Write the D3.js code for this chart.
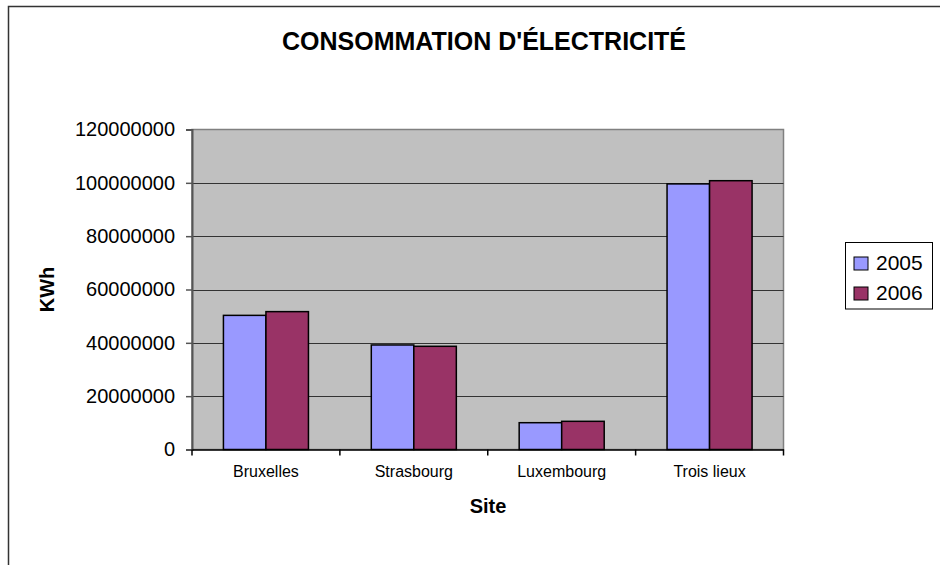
<!DOCTYPE html>
<html>
<head>
<meta charset="utf-8">
<script src="https://cdn.jsdelivr.net/npm/d3@7"></script>
<style>
  html, body { margin: 0; padding: 0; background: #fff; }
  svg { display: block; font-family: "Liberation Sans", Arial, sans-serif; }
</style>
</head>
<body>
<svg id="chart" width="940" height="565"></svg>
<script>
const categories = ["Bruxelles", "Strasbourg", "Luxembourg", "Trois lieux"];
const seriesNames = ["2005", "2006"];
const values2005 = [50300000, 39200000, 10050000, 99600000];
const values2006 = [51700000, 38700000, 10570000, 100800000];
const yTicks = [0, 20000000, 40000000, 60000000, 80000000, 100000000, 120000000];
const colors = ["#9999ff", "#993366"];

const svg = d3.select("#chart");
const W = 940, H = 565;
const plot = { left: 192, right: 783.5, top: 129.5, bottom: 449.5 };

// outer frame
svg.append("rect").attr("x", 8.5).attr("y", 6.5).attr("width", 960).attr("height", 600)
  .attr("fill", "#fff").attr("stroke", "#333").attr("stroke-width", 1.5);

const x0 = d3.scaleBand().domain(categories).range([plot.left, plot.right]).padding(0);
const bw = x0.bandwidth();
const gap = bw * 0.2125;
const x1 = d3.scaleBand().domain(seriesNames).range([gap, bw - gap]).padding(0);
const y = d3.scaleLinear().domain([0, 120000000]).range([plot.bottom, plot.top]);

// plot background
svg.append("rect").attr("x", plot.left).attr("y", plot.top)
  .attr("width", plot.right - plot.left).attr("height", plot.bottom - plot.top)
  .attr("fill", "#c0c0c0").attr("stroke", "#808080").attr("stroke-width", 1.5);

// gridlines
svg.append("g").selectAll("line").data(yTicks.filter(d => d > 0 && d < 120000000)).join("line")
  .attr("x1", plot.left).attr("x2", plot.right)
  .attr("y1", d => Math.round(y(d)) + 0.5).attr("y2", d => Math.round(y(d)) + 0.5)
  .attr("stroke", "#333").attr("stroke-width", 1);

// bars
const data = categories.map((c, i) => ({ cat: c, vals: [values2005[i], values2006[i]] }));
const groups = svg.append("g").selectAll("g").data(data).join("g")
  .attr("transform", d => `translate(${x0(d.cat)},0)`);
groups.selectAll("rect").data(d => d.vals.map((v, j) => ({ s: seriesNames[j], v, j }))).join("rect")
  .attr("x", d => x1(d.s)).attr("width", x1.bandwidth())
  .attr("y", d => y(d.v)).attr("height", d => y(0) - y(d.v))
  .attr("fill", d => colors[d.j]).attr("stroke", "#000").attr("stroke-width", 1.5);

// y axis
const yAxis = d3.axisLeft(y).tickValues(yTicks).tickSize(6).tickPadding(11).tickFormat(d3.format("d"));
const gy = svg.append("g").attr("transform", `translate(${plot.left},0)`).call(yAxis);
gy.select(".domain").attr("stroke", "#555").attr("stroke-width", 2);
gy.selectAll(".tick line").attr("stroke", "#555").attr("stroke-width", 1.5);
gy.selectAll(".tick text").attr("font-size", 20).attr("fill", "#000")
  .attr("font-family", "'Liberation Sans', Arial, sans-serif");

// x axis
const xAxis = d3.axisBottom(x0).tickSize(0).tickPadding(16);
const gx = svg.append("g").attr("transform", `translate(0,${plot.bottom})`).call(xAxis);
gx.select(".domain").attr("stroke", "#000").attr("stroke-width", 1.5);
gx.selectAll(".tick text").attr("font-size", 16).attr("fill", "#000")
  .attr("font-family", "'Liberation Sans', Arial, sans-serif");
// category boundary ticks
const bounds = categories.map(c => x0(c)).concat([plot.right]);
svg.append("g").selectAll("line").data(bounds).join("line")
  .attr("x1", d => d).attr("x2", d => d)
  .attr("y1", plot.bottom).attr("y2", plot.bottom + 6)
  .attr("stroke", "#000").attr("stroke-width", 1.5);

// title
svg.append("text").attr("x", 484).attr("y", 50).attr("text-anchor", "middle")
  .attr("font-size", 25).attr("font-weight", "bold").text("CONSOMMATION D'ÉLECTRICITÉ");

// axis titles
svg.append("text").attr("transform", `translate(54,${(plot.top + plot.bottom) / 2}) rotate(-90)`)
  .attr("text-anchor", "middle").attr("font-size", 20).attr("font-weight", "bold").text("KWh");
svg.append("text").attr("x", 488).attr("y", 513).attr("text-anchor", "middle")
  .attr("font-size", 20).attr("font-weight", "bold").text("Site");

// legend
const lg = svg.append("g");
lg.append("rect").attr("x", 845.5).attr("y", 242.5).attr("width", 87).attr("height", 66.5)
  .attr("fill", "#fff").attr("stroke", "#000").attr("stroke-width", 1);
const items = lg.selectAll("g.item").data(seriesNames).join("g").attr("class", "item")
  .attr("transform", (d, i) => `translate(0,${i * 30})`);
items.append("rect").attr("x", 854).attr("y", 257).attr("width", 14).attr("height", 13)
  .attr("fill", (d, i) => colors[i]).attr("stroke", "#000").attr("stroke-width", 1);
items.append("text").attr("x", 876).attr("y", 269.5).attr("font-size", 21).text(d => d);
</script>
</body>
</html>
